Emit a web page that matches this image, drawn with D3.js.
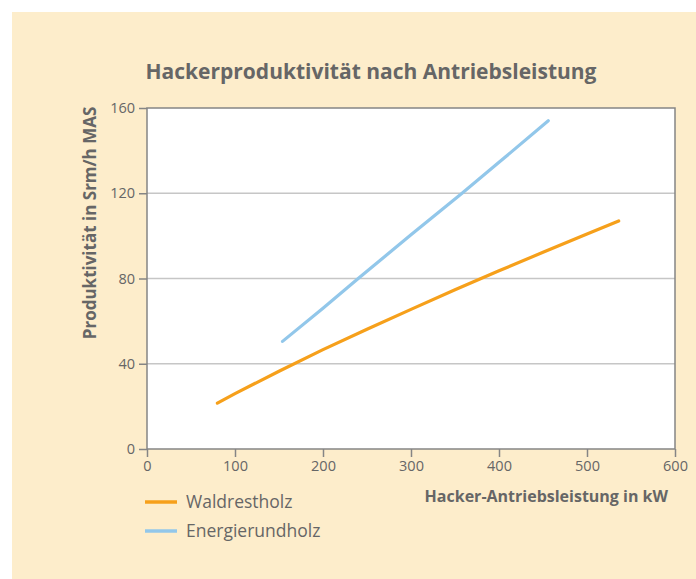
<!DOCTYPE html>
<html>
<head>
    <script src="https://d3js.org/d3.v7.min.js"></script>
    <style>
        body { margin: 0; background: #fff; }
        text { font-family: "Open Sans", sans-serif; fill: #666; }
    </style>
</head>
<body>
    <div id="chart"></div>
    <script>
        // values
        var seriesNames = ["Waldrestholz", "Energierundholz"];
        var waldX = [80, 100, 150, 200, 250, 300, 350, 400, 450, 500, 536];
        var waldY = [21.5, 26.0, 36.5, 46.6, 56.2, 65.5, 74.7, 83.6, 92.3, 100.9, 107.0];
        var energieX = [154, 200, 240, 300, 358, 400, 456];
        var energieY = [50.5, 66, 80, 100.5, 120, 134.5, 154];
        var xTicks = [0, 100, 200, 300, 400, 500, 600];
        var yTicks = [0, 40, 80, 120, 160];

        var W = 696, H = 579;
        var margin = { top: 108, right: 21, bottom: 130, left: 147 },
            width = W - margin.left - margin.right,
            height = H - margin.top - margin.bottom;

        var svg = d3.select("#chart")
            .append("svg")
            .attr("width", W)
            .attr("height", H);

        svg.append("rect")
            .attr("x", 12).attr("y", 12)
            .attr("width", W - 12).attr("height", H - 12)
            .attr("fill", "#fdedcb");

        var g = svg.append("g")
            .attr("transform", "translate(" + margin.left + "," + margin.top + ")");

        var x = d3.scaleLinear().domain([0, 600]).range([0, width]);
        var y = d3.scaleLinear().domain([0, 160]).range([height, 0]);

        g.append("rect")
            .attr("width", width).attr("height", height)
            .attr("fill", "#fff");

        // gridlines
        g.selectAll(".grid")
            .data(yTicks.slice(1, -1))
            .enter().append("line")
            .attr("x1", 0).attr("x2", width)
            .attr("y1", function (d) { return y(d); })
            .attr("y2", function (d) { return y(d); })
            .attr("stroke", "#c6c6c6")
            .attr("stroke-width", 1.5);

        // frame
        g.append("rect")
            .attr("width", width).attr("height", height)
            .attr("fill", "none")
            .attr("stroke", "#858585")
            .attr("stroke-width", 1.5);

        var xAxis = g.append("g")
            .attr("transform", "translate(0," + height + ")")
            .call(d3.axisBottom(x).tickValues(xTicks).tickSize(8).tickPadding(4).tickFormat(d3.format("d")));
        var yAxis = g.append("g")
            .call(d3.axisLeft(y).tickValues(yTicks).tickSize(8).tickPadding(4).tickFormat(d3.format("d")));

        [xAxis, yAxis].forEach(function (a) {
            a.select(".domain").remove();
            a.selectAll(".tick line").attr("stroke", "#858585").attr("stroke-width", 1.5);
            a.selectAll(".tick text")
                .style("font-family", "'Open Sans', sans-serif")
                .style("font-size", "14.5px")
                .attr("fill", "#666");
        });

        var line = d3.line()
            .x(function (d) { return x(d[0]); })
            .y(function (d) { return y(d[1]); });

        var series = [
            { name: seriesNames[0], color: "#f6a01b", pts: d3.zip(waldX, waldY) },
            { name: seriesNames[1], color: "#92c7ea", pts: d3.zip(energieX, energieY) }
        ];

        g.selectAll(".series")
            .data(series)
            .enter().append("path")
            .attr("d", function (d) { return line(d.pts); })
            .attr("fill", "none")
            .attr("stroke", function (d) { return d.color; })
            .attr("stroke-width", 3.2)
            .attr("stroke-linecap", "round");

        // title
        svg.append("text")
            .attr("x", 371).attr("y", 79)
            .attr("text-anchor", "middle")
            .style("font-size", "21px")
            .style("font-weight", "bold")
            .text("Hackerproduktivität nach Antriebsleistung");

        svg.append("text")
            .attr("transform", "translate(96," + (margin.top + 115) + ") rotate(-90)")
            .attr("text-anchor", "middle")
            .style("font-size", "17px")
            .style("font-weight", "bold")
            .text("Produktivität in Srm/h MAS");

        svg.append("text")
            .attr("x", 668).attr("y", 502)
            .attr("text-anchor", "end")
            .style("font-size", "16px")
            .style("font-weight", "bold")
            .text("Hacker-Antriebsleistung in kW");

        // legend
        var legend = svg.selectAll(".legend")
            .data(series)
            .enter().append("g")
            .attr("transform", function (d, i) { return "translate(145," + (502 + i * 29) + ")"; });
        legend.append("line")
            .attr("x1", 0).attr("x2", 32)
            .attr("stroke", function (d) { return d.color; })
            .attr("stroke-width", 3.5);
        legend.append("text")
            .attr("x", 41).attr("dy", "0.35em")
            .style("font-size", "17.5px")
            .text(function (d) { return d.name; });
    </script>
</body>
</html>
